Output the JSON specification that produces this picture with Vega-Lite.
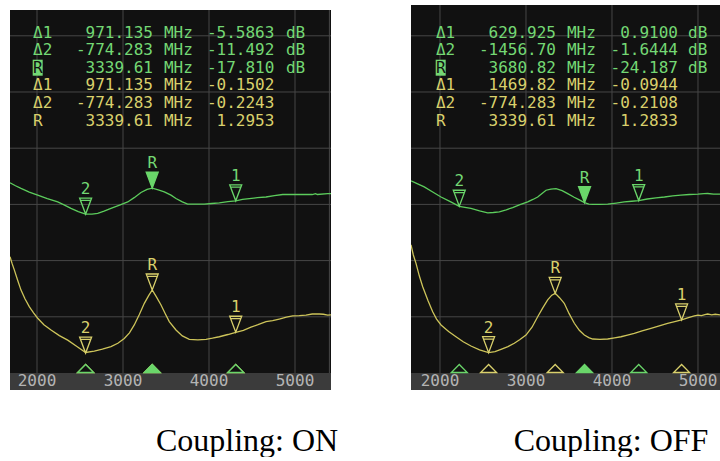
{
"$schema": "https://vega.github.io/schema/vega-lite/v6.json",
"background": "white",
"padding": {"left": 9, "top": 5, "right": 0, "bottom": 0},
"spacing": 80,
"bounds": "flush",
"config": {"view": {"stroke": null}},
"datasets": {
"vg": [{"f":2000},{"f":3000},{"f":4000},{"f":5000},{"f":5400}],
"hg": [{"s":1.2},{"s":1.4},{"s":1.6},{"s":1.8},{"s":2.0},{"s":2.2}],
"ticks": [{"f":2000,"t":"2000"},{"f":3000,"t":"3000"},{"f":4000,"t":"4000"},{"f":5000,"t":"5000"}],
"rdL": [
{"row":1,"trace":"S11","label":"Δ1","freq":"971.135","value":"-5.5863","unit":"dB"},
{"row":2,"trace":"S11","label":"Δ2","freq":"-774.283","value":"-11.492","unit":"dB"},
{"row":3,"trace":"S11","label":"R","freq":"3339.61","value":"-17.810","unit":"dB"},
{"row":4,"trace":"SWR","label":"Δ1","freq":"971.135","value":"-0.1502","unit":""},
{"row":5,"trace":"SWR","label":"Δ2","freq":"-774.283","value":"-0.2243","unit":""},
{"row":6,"trace":"SWR","label":"R","freq":"3339.61","value":"1.2953","unit":""}],
"rdR": [
{"row":1,"trace":"S11","label":"Δ1","freq":"629.925","value":"0.9100","unit":"dB"},
{"row":2,"trace":"S11","label":"Δ2","freq":"-1456.70","value":"-1.6444","unit":"dB"},
{"row":3,"trace":"S11","label":"R","freq":"3680.82","value":"-24.187","unit":"dB"},
{"row":4,"trace":"SWR","label":"Δ1","freq":"1469.82","value":"-0.0944","unit":""},
{"row":5,"trace":"SWR","label":"Δ2","freq":"-774.283","value":"-0.2108","unit":""},
{"row":6,"trace":"SWR","label":"R","freq":"3339.61","value":"1.2833","unit":""}],
"mgL": [{"f":4310.7,"v":-23.396,"m":"1"},{"f":2565.3,"v":-29.302,"m":"2"},{"f":3339.61,"v":-17.81,"m":"R"}],
"myL": [{"f":4310.7,"v":1.1451,"m":"1"},{"f":2565.3,"v":1.071,"m":"2"},{"f":3339.61,"v":1.2953,"m":"R"}],
"mgR": [{"f":4310.7,"v":-23.277,"m":"1"},{"f":2224.1,"v":-25.831,"m":"2"},{"f":3680.82,"v":-24.187,"m":"R"}],
"myR": [{"f":4809.4,"v":1.1889,"m":"1"},{"f":2565.3,"v":1.0725,"m":"2"},{"f":3339.61,"v":1.2833,"m":"R"}],
"gL": [{"f":1686,"v":-15.4},{"f":1750,"v":-16.7},{"f":1814,"v":-17.9},{"f":1910,"v":-19.5},{"f":2008,"v":-20.9},{"f":2120,"v":-22.4},{"f":2241,"v":-23.9},{"f":2320,"v":-25.3},{"f":2395,"v":-26.8},{"f":2480,"v":-28.2},{"f":2565,"v":-29.3},{"f":2640,"v":-29.3},{"f":2706,"v":-29.0},{"f":2780,"v":-28.0},{"f":2860,"v":-26.8},{"f":2960,"v":-25.3},{"f":3055,"v":-23.9},{"f":3130,"v":-22.0},{"f":3209,"v":-19.7},{"f":3280,"v":-18.3},{"f":3340,"v":-17.81},{"f":3410,"v":-18.5},{"f":3480,"v":-19.4},{"f":3558,"v":-20.9},{"f":3616,"v":-22.4},{"f":3690,"v":-23.9},{"f":3752,"v":-24.9},{"f":3850,"v":-24.9},{"f":3945,"v":-24.9},{"f":4030,"v":-24.6},{"f":4120,"v":-24.3},{"f":4220,"v":-23.8},{"f":4311,"v":-23.4},{"f":4390,"v":-22.8},{"f":4469,"v":-22.4},{"f":4563,"v":-22.0},{"f":4663,"v":-21.7},{"f":4760,"v":-21.1},{"f":4857,"v":-20.6},{"f":5000,"v":-20.6},{"f":5100,"v":-20.6},{"f":5200,"v":-20.6},{"f":5240,"v":-20.2},{"f":5260,"v":-20.6},{"f":5380,"v":-20.2},{"f":5418.6,"v":-20.2}],
"yL": [{"f":1686,"v":1.414},{"f":1710,"v":1.39},{"f":1736,"v":1.367},{"f":1775,"v":1.33},{"f":1814,"v":1.295},{"f":1860,"v":1.264},{"f":1910,"v":1.236},{"f":1960,"v":1.214},{"f":2008,"v":1.195},{"f":2080,"v":1.172},{"f":2163,"v":1.153},{"f":2260,"v":1.133},{"f":2357,"v":1.117},{"f":2460,"v":1.095},{"f":2565,"v":1.073},{"f":2666,"v":1.078},{"f":2760,"v":1.085},{"f":2860,"v":1.094},{"f":2940,"v":1.106},{"f":3015,"v":1.123},{"f":3075,"v":1.143},{"f":3131,"v":1.171},{"f":3190,"v":1.208},{"f":3248,"v":1.248},{"f":3300,"v":1.276},{"f":3340,"v":1.2953},{"f":3390,"v":1.27},{"f":3442,"v":1.242},{"f":3490,"v":1.212},{"f":3538,"v":1.183},{"f":3616,"v":1.153},{"f":3690,"v":1.132},{"f":3771,"v":1.12},{"f":3870,"v":1.118},{"f":3965,"v":1.12},{"f":4040,"v":1.124},{"f":4120,"v":1.129},{"f":4220,"v":1.137},{"f":4311,"v":1.145},{"f":4400,"v":1.152},{"f":4488,"v":1.163},{"f":4570,"v":1.172},{"f":4663,"v":1.183},{"f":4740,"v":1.186},{"f":4817,"v":1.192},{"f":4900,"v":1.199},{"f":4973,"v":1.203},{"f":5050,"v":1.204},{"f":5128,"v":1.206},{"f":5200,"v":1.21},{"f":5283,"v":1.21},{"f":5330,"v":1.209},{"f":5380,"v":1.206},{"f":5418.6,"v":1.207}],
"gR": [{"f":1662.8,"v":-14.55},{"f":1740,"v":-15.9},{"f":1817,"v":-17.2},{"f":1915,"v":-19.5},{"f":2012,"v":-21.7},{"f":2120,"v":-23.8},{"f":2224,"v":-25.83},{"f":2290,"v":-26.3},{"f":2360,"v":-26.8},{"f":2460,"v":-27.9},{"f":2555,"v":-28.8},{"f":2620,"v":-28.6},{"f":2690,"v":-28.3},{"f":2770,"v":-27.4},{"f":2845,"v":-26.4},{"f":2930,"v":-25.1},{"f":3020,"v":-23.9},{"f":3080,"v":-22.8},{"f":3136,"v":-21.7},{"f":3190,"v":-20.0},{"f":3233,"v":-18.7},{"f":3290,"v":-18.2},{"f":3349,"v":-18.0},{"f":3420,"v":-18.9},{"f":3485,"v":-20.2},{"f":3560,"v":-21.8},{"f":3620,"v":-23.0},{"f":3681,"v":-24.187},{"f":3730,"v":-24.9},{"f":3776,"v":-25.0},{"f":3860,"v":-25.0},{"f":3950,"v":-24.9},{"f":4050,"v":-24.4},{"f":4143,"v":-23.9},{"f":4230,"v":-23.6},{"f":4311,"v":-23.28},{"f":4410,"v":-22.6},{"f":4512,"v":-22.1},{"f":4610,"v":-21.7},{"f":4706,"v":-21.2},{"f":4800,"v":-20.9},{"f":4899,"v":-20.6},{"f":5000,"v":-20.4},{"f":5070,"v":-20.2},{"f":5113,"v":-20.15},{"f":5180,"v":-20.4},{"f":5267.5,"v":-20.4}],
"yR": [{"f":1662.8,"v":1.456},{"f":1690,"v":1.42},{"f":1721,"v":1.39},{"f":1760,"v":1.345},{"f":1799,"v":1.307},{"f":1860,"v":1.258},{"f":1915,"v":1.218},{"f":1960,"v":1.192},{"f":2012,"v":1.171},{"f":2100,"v":1.148},{"f":2186,"v":1.129},{"f":2270,"v":1.111},{"f":2360,"v":1.096},{"f":2460,"v":1.082},{"f":2565,"v":1.0725},{"f":2640,"v":1.076},{"f":2709,"v":1.084},{"f":2790,"v":1.094},{"f":2864,"v":1.106},{"f":2930,"v":1.119},{"f":3000,"v":1.135},{"f":3070,"v":1.163},{"f":3136,"v":1.2},{"f":3195,"v":1.232},{"f":3252,"v":1.26},{"f":3300,"v":1.277},{"f":3340,"v":1.2833},{"f":3390,"v":1.268},{"f":3445,"v":1.248},{"f":3500,"v":1.212},{"f":3562,"v":1.177},{"f":3620,"v":1.152},{"f":3678,"v":1.135},{"f":3730,"v":1.126},{"f":3776,"v":1.121},{"f":3860,"v":1.12},{"f":3950,"v":1.121},{"f":4030,"v":1.125},{"f":4105,"v":1.129},{"f":4180,"v":1.135},{"f":4259,"v":1.141},{"f":4350,"v":1.15},{"f":4453,"v":1.159},{"f":4550,"v":1.168},{"f":4647,"v":1.177},{"f":4730,"v":1.183},{"f":4809,"v":1.1889},{"f":4880,"v":1.196},{"f":4957,"v":1.203},{"f":5000,"v":1.206},{"f":5040,"v":1.204},{"f":5080,"v":1.208},{"f":5113,"v":1.21},{"f":5160,"v":1.207},{"f":5200,"v":1.209},{"f":5267.5,"v":1.206}]
},
"hconcat": [
{
"width": 321, "height": 385,
"title": {"text": "Coupling: ON", "orient": "bottom", "anchor": "middle", "dx": 76.5, "offset": 61, "baseline": "alphabetic", "font": "Liberation Serif", "fontSize": 32, "fontWeight": "normal", "color": "#000000"},
"resolve": {"scale": {"y": "independent"}},
"layer": [
{"data": {"values": [{}]}, "mark": {"type": "rect", "color": "#111111"},
 "encoding": {"x": {"datum": 1686, "type": "quantitative", "scale": {"domain": [1686, 5418.6], "nice": false, "zero": false}, "axis": null}, "x2": {"datum": 5418.6}, "y": {"datum": 1.0, "type": "quantitative", "scale": {"domain": [0.9395, 2.3096], "nice": false, "zero": false}, "axis": null}, "y2": {"datum": 2.2918}}},
{"data": {"values": [{}]}, "mark": {"type": "rect", "color": "#3b3b3b"},
 "encoding": {"x": {"datum": 1686, "type": "quantitative", "scale": {"domain": [1686, 5418.6], "nice": false, "zero": false}, "axis": null}, "x2": {"datum": 5418.6}, "y": {"datum": 0.9395, "type": "quantitative", "scale": {"domain": [0.9395, 2.3096], "nice": false, "zero": false}, "axis": null}, "y2": {"datum": 1.0}}},
{"data": {"name": "vg"}, "mark": {"type": "rule", "color": "#474747", "strokeWidth": 1, "clip": true},
 "encoding": {"x": {"field": "f", "type": "quantitative", "scale": {"domain": [1686, 5418.6], "nice": false, "zero": false}, "axis": null}, "y": {"datum": 1.0, "type": "quantitative", "scale": {"domain": [0.9395, 2.3096], "nice": false, "zero": false}, "axis": null}, "y2": {"datum": 2.2918}}},
{"data": {"name": "hg"}, "mark": {"type": "rule", "color": "#474747", "strokeWidth": 1},
 "encoding": {"y": {"field": "s", "type": "quantitative", "scale": {"domain": [0.9395, 2.3096], "nice": false, "zero": false}, "axis": null}, "x": {"datum": 1686, "type": "quantitative", "scale": {"domain": [1686, 5418.6], "nice": false, "zero": false}, "axis": null}, "x2": {"datum": 5418.6}}},
{"data": {"name": "rdL"}, "transform": [{"filter": "datum.label === 'R' && datum.trace === 'S11'"}],
 "mark": {"type": "point", "shape": "M-0.625,-1L0.625,-1L0.625,1L-0.625,1Z", "size": 256, "filled": true, "color": "#74d874", "opacity": 1, "yOffset": 0},
 "encoding": {"x": {"datum": 2008, "type": "quantitative", "scale": {"domain": [1686, 5418.6], "nice": false, "zero": false}, "axis": null}, "y": {"field": "row", "type": "quantitative", "scale": {"domain": [-0.5625, 21.3125], "nice": false, "zero": false, "reverse": true}, "axis": null}}},
{"data": {"name": "rdL"}, "mark": {"type": "text", "align": "left", "baseline": "middle", "font": "DejaVu Sans Mono", "fontSize": 16},
 "encoding": {"x": {"datum": 1953.4, "type": "quantitative", "scale": {"domain": [1686, 5418.6], "nice": false, "zero": false}, "axis": null}, "y": {"field": "row", "type": "quantitative", "scale": {"domain": [-0.5625, 21.3125], "nice": false, "zero": false, "reverse": true}, "axis": null}, "text": {"field": "label"},
  "color": {"condition": {"test": "datum.label === 'R' && datum.trace === 'S11'", "value": "#111111"}, "field": "trace", "type": "nominal", "scale": {"domain": ["S11", "SWR"], "range": ["#74d874", "#d9d06c"]}, "legend": null}}},
{"data": {"name": "rdL"}, "mark": {"type": "text", "align": "right", "baseline": "middle", "font": "DejaVu Sans Mono", "fontSize": 16},
 "encoding": {"x": {"datum": 3348.8, "type": "quantitative", "scale": {"domain": [1686, 5418.6], "nice": false, "zero": false}, "axis": null}, "y": {"field": "row", "type": "quantitative", "scale": {"domain": [-0.5625, 21.3125], "nice": false, "zero": false, "reverse": true}, "axis": null}, "text": {"field": "freq"},
  "color": {"field": "trace", "type": "nominal", "scale": {"domain": ["S11", "SWR"], "range": ["#74d874", "#d9d06c"]}, "legend": null}}},
{"data": {"name": "rdL"}, "mark": {"type": "text", "align": "left", "baseline": "middle", "font": "DejaVu Sans Mono", "fontSize": 16},
 "encoding": {"x": {"datum": 3476, "type": "quantitative", "scale": {"domain": [1686, 5418.6], "nice": false, "zero": false}, "axis": null}, "y": {"field": "row", "type": "quantitative", "scale": {"domain": [-0.5625, 21.3125], "nice": false, "zero": false, "reverse": true}, "axis": null}, "text": {"value": "MHz"},
  "color": {"field": "trace", "type": "nominal", "scale": {"domain": ["S11", "SWR"], "range": ["#74d874", "#d9d06c"]}, "legend": null}}},
{"data": {"name": "rdL"}, "mark": {"type": "text", "align": "right", "baseline": "middle", "font": "DejaVu Sans Mono", "fontSize": 16},
 "encoding": {"x": {"datum": 4760, "type": "quantitative", "scale": {"domain": [1686, 5418.6], "nice": false, "zero": false}, "axis": null}, "y": {"field": "row", "type": "quantitative", "scale": {"domain": [-0.5625, 21.3125], "nice": false, "zero": false, "reverse": true}, "axis": null}, "text": {"field": "value"},
  "color": {"field": "trace", "type": "nominal", "scale": {"domain": ["S11", "SWR"], "range": ["#74d874", "#d9d06c"]}, "legend": null}}},
{"data": {"name": "rdL"}, "mark": {"type": "text", "align": "left", "baseline": "middle", "font": "DejaVu Sans Mono", "fontSize": 16},
 "encoding": {"x": {"datum": 4895, "type": "quantitative", "scale": {"domain": [1686, 5418.6], "nice": false, "zero": false}, "axis": null}, "y": {"field": "row", "type": "quantitative", "scale": {"domain": [-0.5625, 21.3125], "nice": false, "zero": false, "reverse": true}, "axis": null}, "text": {"field": "unit"},
  "color": {"field": "trace", "type": "nominal", "scale": {"domain": ["S11", "SWR"], "range": ["#74d874", "#d9d06c"]}, "legend": null}}},
{"data": {"name": "gL"}, "mark": {"type": "line", "color": "#5ccc5c", "strokeWidth": 1.3, "clip": true},
 "encoding": {"x": {"field": "f", "type": "quantitative", "scale": {"domain": [1686, 5418.6], "nice": false, "zero": false}, "axis": null}, "y": {"field": "v", "type": "quantitative", "scale": {"domain": [-107.56, 63.70], "nice": false, "zero": false}, "axis": null}}},
{"data": {"name": "yL"}, "mark": {"type": "line", "color": "#cdc45a", "strokeWidth": 1.3, "clip": true},
 "encoding": {"x": {"field": "f", "type": "quantitative", "scale": {"domain": [1686, 5418.6], "nice": false, "zero": false}, "axis": null}, "y": {"field": "v", "type": "quantitative", "scale": {"domain": [0.9395, 2.3096], "nice": false, "zero": false}, "axis": null}}},
{"data": {"name": "mgL"}, "mark": {"type": "point", "shape": "M-0.75,-1L0.75,-1L0,1Z M-0.7,-0.7L0.7,-0.7", "size": 256, "stroke": "#6ad66a", "strokeWidth": 1.3, "opacity": 1, "yOffset": -8},
 "encoding": {"x": {"field": "f", "type": "quantitative", "scale": {"domain": [1686, 5418.6], "nice": false, "zero": false}, "axis": null}, "y": {"field": "v", "type": "quantitative", "scale": {"domain": [-107.56, 63.70], "nice": false, "zero": false}, "axis": null},
  "fill": {"condition": {"test": "datum.m === 'R'", "value": "#6ad66a"}, "value": "transparent"}}},
{"data": {"name": "mgL"}, "mark": {"type": "text", "font": "DejaVu Sans Mono", "fontSize": 16, "baseline": "middle", "color": "#74d874", "dy": -25},
 "encoding": {"x": {"field": "f", "type": "quantitative", "scale": {"domain": [1686, 5418.6], "nice": false, "zero": false}, "axis": null}, "y": {"field": "v", "type": "quantitative", "scale": {"domain": [-107.56, 63.70], "nice": false, "zero": false}, "axis": null}, "text": {"field": "m"}}},
{"data": {"name": "myL"}, "mark": {"type": "point", "shape": "M-0.75,-1L0.75,-1L0,1Z M-0.7,-0.7L0.7,-0.7", "size": 256, "stroke": "#d9d06c", "strokeWidth": 1.3, "opacity": 1, "fill": "transparent", "yOffset": -8},
 "encoding": {"x": {"field": "f", "type": "quantitative", "scale": {"domain": [1686, 5418.6], "nice": false, "zero": false}, "axis": null}, "y": {"field": "v", "type": "quantitative", "scale": {"domain": [0.9395, 2.3096], "nice": false, "zero": false}, "axis": null}}},
{"data": {"name": "myL"}, "mark": {"type": "text", "font": "DejaVu Sans Mono", "fontSize": 16, "baseline": "middle", "color": "#d9d06c", "dy": -25},
 "encoding": {"x": {"field": "f", "type": "quantitative", "scale": {"domain": [1686, 5418.6], "nice": false, "zero": false}, "axis": null}, "y": {"field": "v", "type": "quantitative", "scale": {"domain": [0.9395, 2.3096], "nice": false, "zero": false}, "axis": null}, "text": {"field": "m"}}},
{"data": {"name": "myL"}, "mark": {"type": "point", "shape": "M-1,0.5L1,0.5L0,-0.5Z", "size": 256, "stroke": "#d9d06c", "strokeWidth": 1.3, "opacity": 1, "fill": "transparent", "yOffset": -4.5},
 "encoding": {"x": {"field": "f", "type": "quantitative", "scale": {"domain": [1686, 5418.6], "nice": false, "zero": false}, "axis": null}, "y": {"datum": 1.0, "type": "quantitative", "scale": {"domain": [0.9395, 2.3096], "nice": false, "zero": false}, "axis": null}}},
{"data": {"name": "mgL"}, "mark": {"type": "point", "shape": "M-1,0.5L1,0.5L0,-0.5Z", "size": 256, "stroke": "#6ad66a", "strokeWidth": 1.3, "opacity": 1, "yOffset": -4.5},
 "encoding": {"x": {"field": "f", "type": "quantitative", "scale": {"domain": [1686, 5418.6], "nice": false, "zero": false}, "axis": null}, "y": {"datum": 1.0, "type": "quantitative", "scale": {"domain": [0.9395, 2.3096], "nice": false, "zero": false}, "axis": null},
  "fill": {"condition": {"test": "datum.m === 'R'", "value": "#6ad66a"}, "value": "#111111"}}},
{"data": {"name": "ticks"}, "mark": {"type": "text", "font": "DejaVu Sans Mono", "fontSize": 16, "baseline": "middle", "color": "#b4b4b4"},
 "encoding": {"x": {"field": "f", "type": "quantitative", "scale": {"domain": [1686, 5418.6], "nice": false, "zero": false}, "axis": null}, "y": {"datum": 0.9715, "type": "quantitative", "scale": {"domain": [0.9395, 2.3096], "nice": false, "zero": false}, "axis": null}, "text": {"field": "t"}}}
]
},
{
"width": 310, "height": 385,
"title": {"text": "Coupling: OFF", "orient": "bottom", "anchor": "middle", "dx": 45, "offset": 61, "baseline": "alphabetic", "font": "Liberation Serif", "fontSize": 32, "fontWeight": "normal", "color": "#000000"},
"resolve": {"scale": {"y": "independent"}},
"layer": [
{"data": {"values": [{}]}, "mark": {"type": "rect", "color": "#111111"},
 "encoding": {"x": {"datum": 1662.8, "type": "quantitative", "scale": {"domain": [1662.8, 5267.5], "nice": false, "zero": false}, "axis": null}, "x2": {"datum": 5267.5}, "y": {"datum": 1.0, "type": "quantitative", "scale": {"domain": [0.9395, 2.3096], "nice": false, "zero": false}, "axis": null}, "y2": {"datum": 2.3096}}},
{"data": {"values": [{}]}, "mark": {"type": "rect", "color": "#3b3b3b"},
 "encoding": {"x": {"datum": 1662.8, "type": "quantitative", "scale": {"domain": [1662.8, 5267.5], "nice": false, "zero": false}, "axis": null}, "x2": {"datum": 5267.5}, "y": {"datum": 0.9395, "type": "quantitative", "scale": {"domain": [0.9395, 2.3096], "nice": false, "zero": false}, "axis": null}, "y2": {"datum": 1.0}}},
{"data": {"name": "vg"}, "transform": [{"filter": "datum.f < 5267"}], "mark": {"type": "rule", "color": "#474747", "strokeWidth": 1, "clip": true},
 "encoding": {"x": {"field": "f", "type": "quantitative", "scale": {"domain": [1662.8, 5267.5], "nice": false, "zero": false}, "axis": null}, "y": {"datum": 1.0, "type": "quantitative", "scale": {"domain": [0.9395, 2.3096], "nice": false, "zero": false}, "axis": null}, "y2": {"datum": 2.3096}}},
{"data": {"name": "hg"}, "mark": {"type": "rule", "color": "#474747", "strokeWidth": 1},
 "encoding": {"y": {"field": "s", "type": "quantitative", "scale": {"domain": [0.9395, 2.3096], "nice": false, "zero": false}, "axis": null}, "x": {"datum": 1662.8, "type": "quantitative", "scale": {"domain": [1662.8, 5267.5], "nice": false, "zero": false}, "axis": null}, "x2": {"datum": 5267.5}}},
{"data": {"name": "rdR"}, "transform": [{"filter": "datum.label === 'R' && datum.trace === 'S11'"}],
 "mark": {"type": "point", "shape": "M-0.625,-1L0.625,-1L0.625,1L-0.625,1Z", "size": 256, "filled": true, "color": "#74d874", "opacity": 1, "yOffset": 0},
 "encoding": {"x": {"datum": 2008, "type": "quantitative", "scale": {"domain": [1662.8, 5267.5], "nice": false, "zero": false}, "axis": null}, "y": {"field": "row", "type": "quantitative", "scale": {"domain": [-0.5625, 21.3125], "nice": false, "zero": false, "reverse": true}, "axis": null}}},
{"data": {"name": "rdR"}, "mark": {"type": "text", "align": "left", "baseline": "middle", "font": "DejaVu Sans Mono", "fontSize": 16},
 "encoding": {"x": {"datum": 1953.4, "type": "quantitative", "scale": {"domain": [1662.8, 5267.5], "nice": false, "zero": false}, "axis": null}, "y": {"field": "row", "type": "quantitative", "scale": {"domain": [-0.5625, 21.3125], "nice": false, "zero": false, "reverse": true}, "axis": null}, "text": {"field": "label"},
  "color": {"condition": {"test": "datum.label === 'R' && datum.trace === 'S11'", "value": "#111111"}, "field": "trace", "type": "nominal", "scale": {"domain": ["S11", "SWR"], "range": ["#74d874", "#d9d06c"]}, "legend": null}}},
{"data": {"name": "rdR"}, "mark": {"type": "text", "align": "right", "baseline": "middle", "font": "DejaVu Sans Mono", "fontSize": 16},
 "encoding": {"x": {"datum": 3348.8, "type": "quantitative", "scale": {"domain": [1662.8, 5267.5], "nice": false, "zero": false}, "axis": null}, "y": {"field": "row", "type": "quantitative", "scale": {"domain": [-0.5625, 21.3125], "nice": false, "zero": false, "reverse": true}, "axis": null}, "text": {"field": "freq"},
  "color": {"field": "trace", "type": "nominal", "scale": {"domain": ["S11", "SWR"], "range": ["#74d874", "#d9d06c"]}, "legend": null}}},
{"data": {"name": "rdR"}, "mark": {"type": "text", "align": "left", "baseline": "middle", "font": "DejaVu Sans Mono", "fontSize": 16},
 "encoding": {"x": {"datum": 3476, "type": "quantitative", "scale": {"domain": [1662.8, 5267.5], "nice": false, "zero": false}, "axis": null}, "y": {"field": "row", "type": "quantitative", "scale": {"domain": [-0.5625, 21.3125], "nice": false, "zero": false, "reverse": true}, "axis": null}, "text": {"value": "MHz"},
  "color": {"field": "trace", "type": "nominal", "scale": {"domain": ["S11", "SWR"], "range": ["#74d874", "#d9d06c"]}, "legend": null}}},
{"data": {"name": "rdR"}, "mark": {"type": "text", "align": "right", "baseline": "middle", "font": "DejaVu Sans Mono", "fontSize": 16},
 "encoding": {"x": {"datum": 4767, "type": "quantitative", "scale": {"domain": [1662.8, 5267.5], "nice": false, "zero": false}, "axis": null}, "y": {"field": "row", "type": "quantitative", "scale": {"domain": [-0.5625, 21.3125], "nice": false, "zero": false, "reverse": true}, "axis": null}, "text": {"field": "value"},
  "color": {"field": "trace", "type": "nominal", "scale": {"domain": ["S11", "SWR"], "range": ["#74d874", "#d9d06c"]}, "legend": null}}},
{"data": {"name": "rdR"}, "mark": {"type": "text", "align": "left", "baseline": "middle", "font": "DejaVu Sans Mono", "fontSize": 16},
 "encoding": {"x": {"datum": 4884, "type": "quantitative", "scale": {"domain": [1662.8, 5267.5], "nice": false, "zero": false}, "axis": null}, "y": {"field": "row", "type": "quantitative", "scale": {"domain": [-0.5625, 21.3125], "nice": false, "zero": false, "reverse": true}, "axis": null}, "text": {"field": "unit"},
  "color": {"field": "trace", "type": "nominal", "scale": {"domain": ["S11", "SWR"], "range": ["#74d874", "#d9d06c"]}, "legend": null}}},
{"data": {"name": "gR"}, "mark": {"type": "line", "color": "#5ccc5c", "strokeWidth": 1.3, "clip": true},
 "encoding": {"x": {"field": "f", "type": "quantitative", "scale": {"domain": [1662.8, 5267.5], "nice": false, "zero": false}, "axis": null}, "y": {"field": "v", "type": "quantitative", "scale": {"domain": [-107.56, 63.70], "nice": false, "zero": false}, "axis": null}}},
{"data": {"name": "yR"}, "mark": {"type": "line", "color": "#cdc45a", "strokeWidth": 1.3, "clip": true},
 "encoding": {"x": {"field": "f", "type": "quantitative", "scale": {"domain": [1662.8, 5267.5], "nice": false, "zero": false}, "axis": null}, "y": {"field": "v", "type": "quantitative", "scale": {"domain": [0.9395, 2.3096], "nice": false, "zero": false}, "axis": null}}},
{"data": {"name": "mgR"}, "mark": {"type": "point", "shape": "M-0.75,-1L0.75,-1L0,1Z M-0.7,-0.7L0.7,-0.7", "size": 256, "stroke": "#6ad66a", "strokeWidth": 1.3, "opacity": 1, "yOffset": -8},
 "encoding": {"x": {"field": "f", "type": "quantitative", "scale": {"domain": [1662.8, 5267.5], "nice": false, "zero": false}, "axis": null}, "y": {"field": "v", "type": "quantitative", "scale": {"domain": [-107.56, 63.70], "nice": false, "zero": false}, "axis": null},
  "fill": {"condition": {"test": "datum.m === 'R'", "value": "#6ad66a"}, "value": "transparent"}}},
{"data": {"name": "mgR"}, "mark": {"type": "text", "font": "DejaVu Sans Mono", "fontSize": 16, "baseline": "middle", "color": "#74d874", "dy": -25},
 "encoding": {"x": {"field": "f", "type": "quantitative", "scale": {"domain": [1662.8, 5267.5], "nice": false, "zero": false}, "axis": null}, "y": {"field": "v", "type": "quantitative", "scale": {"domain": [-107.56, 63.70], "nice": false, "zero": false}, "axis": null}, "text": {"field": "m"}}},
{"data": {"name": "myR"}, "mark": {"type": "point", "shape": "M-0.75,-1L0.75,-1L0,1Z M-0.7,-0.7L0.7,-0.7", "size": 256, "stroke": "#d9d06c", "strokeWidth": 1.3, "opacity": 1, "fill": "transparent", "yOffset": -8},
 "encoding": {"x": {"field": "f", "type": "quantitative", "scale": {"domain": [1662.8, 5267.5], "nice": false, "zero": false}, "axis": null}, "y": {"field": "v", "type": "quantitative", "scale": {"domain": [0.9395, 2.3096], "nice": false, "zero": false}, "axis": null}}},
{"data": {"name": "myR"}, "mark": {"type": "text", "font": "DejaVu Sans Mono", "fontSize": 16, "baseline": "middle", "color": "#d9d06c", "dy": -25},
 "encoding": {"x": {"field": "f", "type": "quantitative", "scale": {"domain": [1662.8, 5267.5], "nice": false, "zero": false}, "axis": null}, "y": {"field": "v", "type": "quantitative", "scale": {"domain": [0.9395, 2.3096], "nice": false, "zero": false}, "axis": null}, "text": {"field": "m"}}},
{"data": {"name": "myR"}, "mark": {"type": "point", "shape": "M-1,0.5L1,0.5L0,-0.5Z", "size": 256, "stroke": "#d9d06c", "strokeWidth": 1.3, "opacity": 1, "fill": "transparent", "yOffset": -4.5},
 "encoding": {"x": {"field": "f", "type": "quantitative", "scale": {"domain": [1662.8, 5267.5], "nice": false, "zero": false}, "axis": null}, "y": {"datum": 1.0, "type": "quantitative", "scale": {"domain": [0.9395, 2.3096], "nice": false, "zero": false}, "axis": null}}},
{"data": {"name": "mgR"}, "mark": {"type": "point", "shape": "M-1,0.5L1,0.5L0,-0.5Z", "size": 256, "stroke": "#6ad66a", "strokeWidth": 1.3, "opacity": 1, "yOffset": -4.5},
 "encoding": {"x": {"field": "f", "type": "quantitative", "scale": {"domain": [1662.8, 5267.5], "nice": false, "zero": false}, "axis": null}, "y": {"datum": 1.0, "type": "quantitative", "scale": {"domain": [0.9395, 2.3096], "nice": false, "zero": false}, "axis": null},
  "fill": {"condition": {"test": "datum.m === 'R'", "value": "#6ad66a"}, "value": "transparent"}}},
{"data": {"name": "ticks"}, "mark": {"type": "text", "font": "DejaVu Sans Mono", "fontSize": 16, "baseline": "middle", "color": "#b4b4b4"},
 "encoding": {"x": {"field": "f", "type": "quantitative", "scale": {"domain": [1662.8, 5267.5], "nice": false, "zero": false}, "axis": null}, "y": {"datum": 0.9715, "type": "quantitative", "scale": {"domain": [0.9395, 2.3096], "nice": false, "zero": false}, "axis": null}, "text": {"field": "t"}}}
]
}
]
}
